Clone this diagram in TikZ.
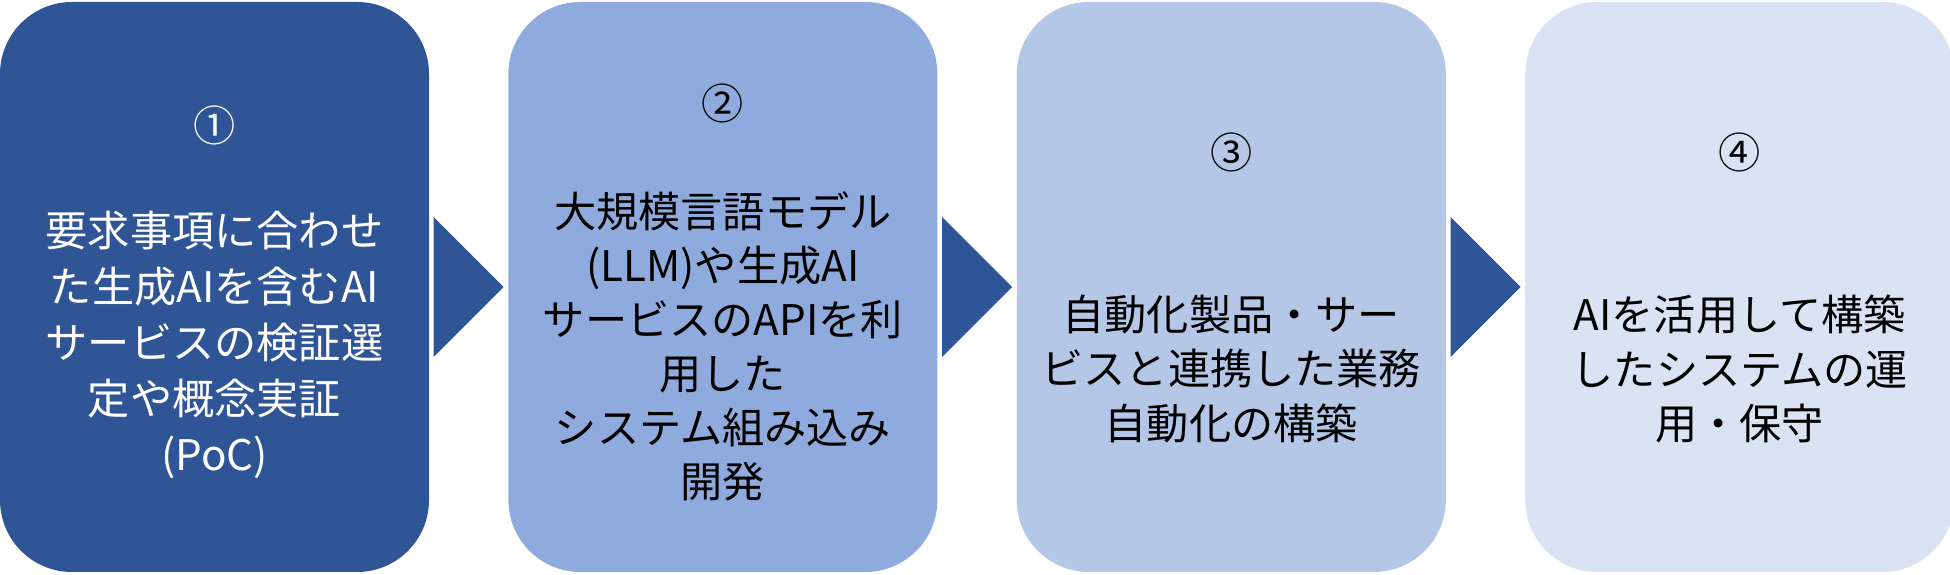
\documentclass[tikz,border=0pt]{standalone}
\usepackage{fontspec}
\newfontfamily\jpfont{Noto Sans CJK JP}
\usetikzlibrary{positioning, calc}
\definecolor{stageA}{HTML}{2F5597}
\definecolor{stageB}{HTML}{8FAADC}
\definecolor{stageC}{HTML}{B4C7E7}
\definecolor{stageD}{HTML}{DAE3F3}

\begin{document}
\begin{tikzpicture}[
    node distance=0.78cm,
    stage/.style={rectangle, rounded corners=0.72cm, minimum width=4.29cm, minimum height=5.70cm, inner sep=0pt},
    num/.style={font=\jpfont\fontsize{12pt}{15.4pt}\selectfont, inner sep=0pt},
    desc/.style={align=center, font=\jpfont\fontsize{12pt}{15.4pt}\selectfont, inner sep=0pt},
    chevron/.style={fill=stageA}
]
\useasboundingbox (0,0) rectangle (19.5,-5.75);

% Nodes
\node (box1) [stage, fill=stageA] at (2.145,-2.87) {};
\node (box2) [stage, fill=stageB, right=of box1] {};
\node (box3) [stage, fill=stageC, right=of box2] {};
\node (box4) [stage, fill=stageD, right=of box3] {};

\node (num1) [num, text=white] at (box1.center |- 0,-1.25) {①};
\node (num2) [num] at (box2.center |- 0,-1.03) {②};
\node (num3) [num] at (box3.center |- 0,-1.52) {③};
\node (num4) [num] at (box4.center |- 0,-1.52) {④};

\node (desc1) [desc, text=white, font=\jpfont\fontsize{12pt}{15.9pt}\selectfont] at (box1.center |- 0,-3.45) {要求事項に合わせ\\た生成AIを含むAI\\サービスの検証選\\定や概念実証\\(PoC)};
\node (desc2) [desc] at (box2.center |- 0,-3.465) {大規模言語モデル\\(LLM)や生成AI\\サービスのAPIを利\\用した\\システム組み込み\\開発};
\node (desc3) [desc] at (box3.center |- 0,-3.69) {自動化製品・サー\\ビスと連携した業務\\自動化の構築};
\node (desc4) [desc] at (box4.center |- 0,-3.69) {AIを活用して構築\\したシステムの運\\用・保守};

% Arrows
\fill [chevron] ([xshift=0.04cm, yshift=0.7cm]box1.east) -- ([xshift=-0.04cm]box2.west) -- ([xshift=0.04cm, yshift=-0.7cm]box1.east) -- cycle;
\fill [chevron] ([xshift=0.04cm, yshift=0.7cm]box2.east) -- ([xshift=-0.04cm]box3.west) -- ([xshift=0.04cm, yshift=-0.7cm]box2.east) -- cycle;
\fill [chevron] ([xshift=0.04cm, yshift=0.7cm]box3.east) -- ([xshift=-0.04cm]box4.west) -- ([xshift=0.04cm, yshift=-0.7cm]box3.east) -- cycle;

\end{tikzpicture}
\end{document}
